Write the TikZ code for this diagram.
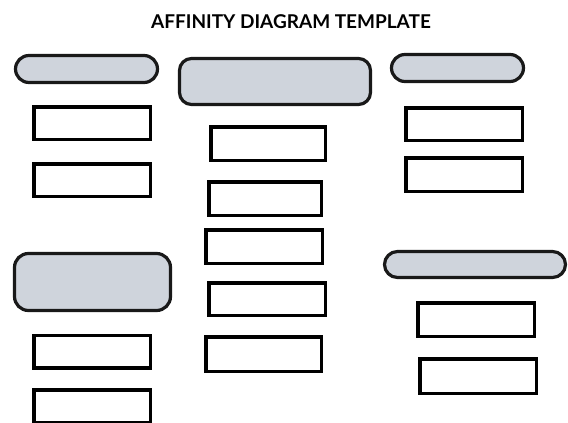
\documentclass[tikz,border=0pt]{standalone}
\usepackage{fontspec}
\setmainfont{Lato}
\usepackage{xcolor}
\definecolor{headgray}{RGB}{207,212,220}
\usepackage{tikz}
\usetikzlibrary{positioning}

\begin{document}
\begin{tikzpicture}[x=1pt, y=-1pt,
  header/.style={draw=black!90, line width=3.2pt, fill=headgray, inner sep=0pt},
  card/.style={draw=black, line width=3.5pt, fill=white, inner sep=0pt, minimum width=116.5pt, minimum height=32.5pt}]
  \useasboundingbox (0,0) rectangle (568,423);
  \node[font=\fontsize{19}{22}\selectfont\bfseries] (title) at (291,21.5){AFFINITY DIAGRAM TEMPLATE};
  % header cards
  \node[header, rounded corners=13.5pt, minimum width=142pt, minimum height=27pt] (hleft) at (86.5,69){};
  \node[header, rounded corners=12pt, minimum width=191pt, minimum height=46pt] (hmid) at (275,81.5){};
  \node[header, rounded corners=13.5pt, minimum width=132pt, minimum height=27pt] (hright) at (457.5,68){};
  \node[header, rounded corners=14pt, minimum width=156pt, minimum height=57pt] (hlowleft) at (92.5,282){};
  \node[header, rounded corners=13pt, minimum width=181pt, minimum height=26pt] (hlowright) at (475,264.5){};
  % idea cards, left
  \node[card] (l1) at (92,123){};
  \node[card] (l2) at (92,180){};
  \node[card] (l3) at (92,351.5){};
  \node[card] (l4) at (92,406){};
  % idea cards, middle
  \node[card, minimum width=114.5pt, minimum height=33.5pt] (m1) at (268,143.5){};
  \node[card, minimum width=112.5pt, minimum height=33.5pt] (m2) at (265,198.5){};
  \node[card, minimum height=33.5pt] (m3) at (264,246.5){};
  \node[card] (m4) at (267,299){};
  \node[card, minimum width=115.5pt, minimum height=34.5pt] (m5) at (263.5,354){};
  % idea cards, right
  \node[card] (r1) at (464,124){};
  \node[card, minimum height=33.5pt] (r2) at (464,174.5){};
  \node[card, minimum height=33.5pt] (r3) at (476,319.5){};
  \node[card, minimum height=34.5pt] (r4) at (478,376){};
\end{tikzpicture}
\end{document}
